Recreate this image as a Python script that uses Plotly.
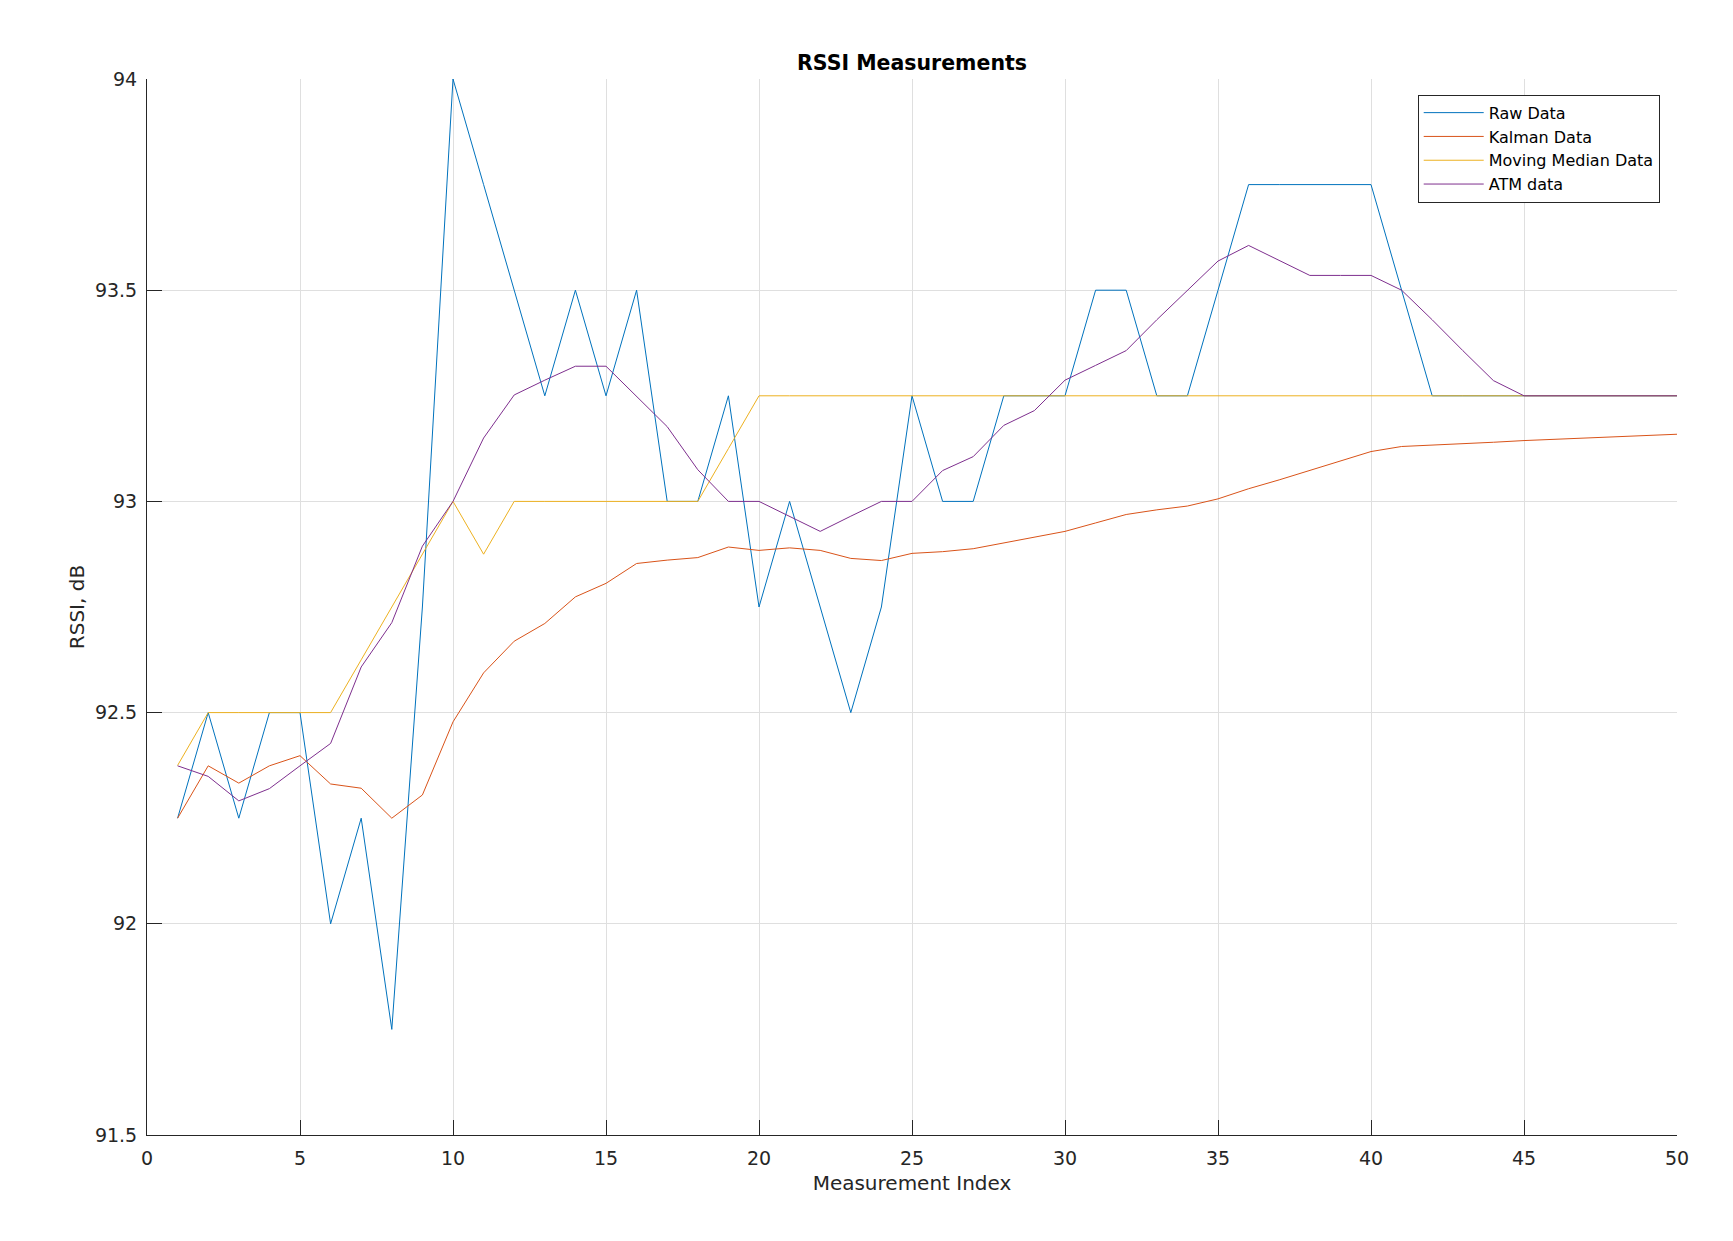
import plotly.graph_objects as go

# ---- data ----
measurement_index = list(range(1, 51))

raw_data = [92.25, 92.5, 92.25, 92.5, 92.5, 92.0, 92.25, 91.75, 92.75, 94.0,
            93.75, 93.5, 93.25, 93.5, 93.25, 93.5, 93.0, 93.0, 93.25, 92.75,
            93.0, 92.75, 92.5, 92.75, 93.25, 93.0, 93.0, 93.25, 93.25, 93.25,
            93.5, 93.5, 93.25, 93.25, 93.5, 93.75, 93.75, 93.75, 93.75, 93.75,
            93.5, 93.25, 93.25, 93.25, 93.25, 93.25, 93.25, 93.25, 93.25, 93.25]

kalman_data = [92.25, 92.374, 92.333, 92.374, 92.398, 92.331, 92.321, 92.25, 92.305, 92.478,
               92.594, 92.669, 92.711, 92.774, 92.806, 92.853, 92.861, 92.867, 92.892, 92.884,
               92.890, 92.884, 92.865, 92.860, 92.877, 92.881, 92.888, 92.902, 92.915, 92.929,
               92.949, 92.969, 92.980, 92.989, 93.006, 93.030, 93.051, 93.073, 93.096, 93.118,
               93.130, 93.133, 93.137, 93.140, 93.144, 93.147, 93.150, 93.153, 93.156, 93.159]

moving_median_data = [92.375, 92.5, 92.5, 92.5, 92.5, 92.5, 92.625, 92.75, 92.875, 93.0,
                      92.875, 93.0, 93.0, 93.0, 93.0, 93.0, 93.0, 93.0, 93.125, 93.25,
                      93.25, 93.25, 93.25, 93.25, 93.25, 93.25, 93.25, 93.25, 93.25, 93.25,
                      93.25, 93.25, 93.25, 93.25, 93.25, 93.25, 93.25, 93.25, 93.25, 93.25,
                      93.25, 93.25, 93.25, 93.25, 93.25, 93.25, 93.25, 93.25, 93.25, 93.25]

atm_data = [92.374, 92.349, 92.291, 92.32, 92.374, 92.427, 92.608, 92.713, 92.894, 93.0,
            93.15, 93.252, 93.287, 93.32, 93.32, 93.249, 93.177, 93.075, 93.0, 93.0,
            92.965, 92.929, 92.965, 93.0, 93.0, 93.073, 93.106, 93.18, 93.215, 93.287,
            93.322, 93.357, 93.43, 93.5, 93.569, 93.606, 93.57, 93.535, 93.535, 93.535,
            93.5, 93.43, 93.357, 93.286, 93.25, 93.25, 93.25, 93.25, 93.25, 93.25]

series_names = ["Raw Data", "Kalman Data", "Moving Median Data", "ATM data"]
series_colors = ["#0072BD", "#D95319", "#EDB120", "#7E2F8E"]
series_values = [raw_data, kalman_data, moving_median_data, atm_data]

x_ticks = [0, 5, 10, 15, 20, 25, 30, 35, 40, 45, 50]
y_ticks = [91.5, 92, 92.5, 93, 93.5, 94]
y_tick_labels = ["91.5", "92", "92.5", "93", "93.5", "94"]

FONT = "DejaVu Sans"
AXC = "#262626"
GRID = "#dfdfdf"

fig = go.Figure()
for name, color, vals in zip(series_names, series_colors, series_values):
    fig.add_trace(go.Scatter(x=measurement_index, y=vals, mode="lines", name=name,
                             line=dict(color=color, width=1)))

fig.update_layout(
    width=1733, height=1241,
    margin=dict(l=139, r=64, t=71, b=114),
    paper_bgcolor="white", plot_bgcolor="white",
    font=dict(family=FONT, size=19, color=AXC),
    title=dict(text="<b>RSSI Measurements</b>", x=0.5, xref="paper",
               y=(1241 - 55) / 1241, yref="container", yanchor="middle", xanchor="center",
               font=dict(family=FONT, size=20.5, color="black")),
    legend=dict(x=0.9887, y=0.9851, xanchor="right", yanchor="top",
                bgcolor="white", bordercolor=AXC, borderwidth=1,
                font=dict(family=FONT, size=16, color="black"),
                tracegroupgap=0, itemwidth=60),
    showlegend=True,
)

fig.update_xaxes(
    range=[0, 50], tickvals=x_ticks, ticktext=[str(v) for v in x_ticks],
    showgrid=True, gridcolor=GRID, gridwidth=1, zeroline=False,
    showline=True, linecolor=AXC, linewidth=1, mirror=False,
    ticks="inside", ticklen=15, tickcolor=AXC, tickwidth=1,
    ticklabelstandoff=6,
    title=dict(text="Measurement Index", font=dict(family=FONT, size=20, color=AXC), standoff=8),
)
fig.update_yaxes(
    range=[91.5, 94], tickvals=y_ticks, ticktext=y_tick_labels,
    showgrid=True, gridcolor=GRID, gridwidth=1, zeroline=False,
    showline=True, linecolor=AXC, linewidth=1, mirror=False,
    ticks="inside", ticklen=15, tickcolor=AXC, tickwidth=1,
    ticklabelstandoff=5,
    title=dict(text="RSSI, dB", font=dict(family=FONT, size=20, color=AXC), standoff=4),
)

fig.write_html("out.html")
